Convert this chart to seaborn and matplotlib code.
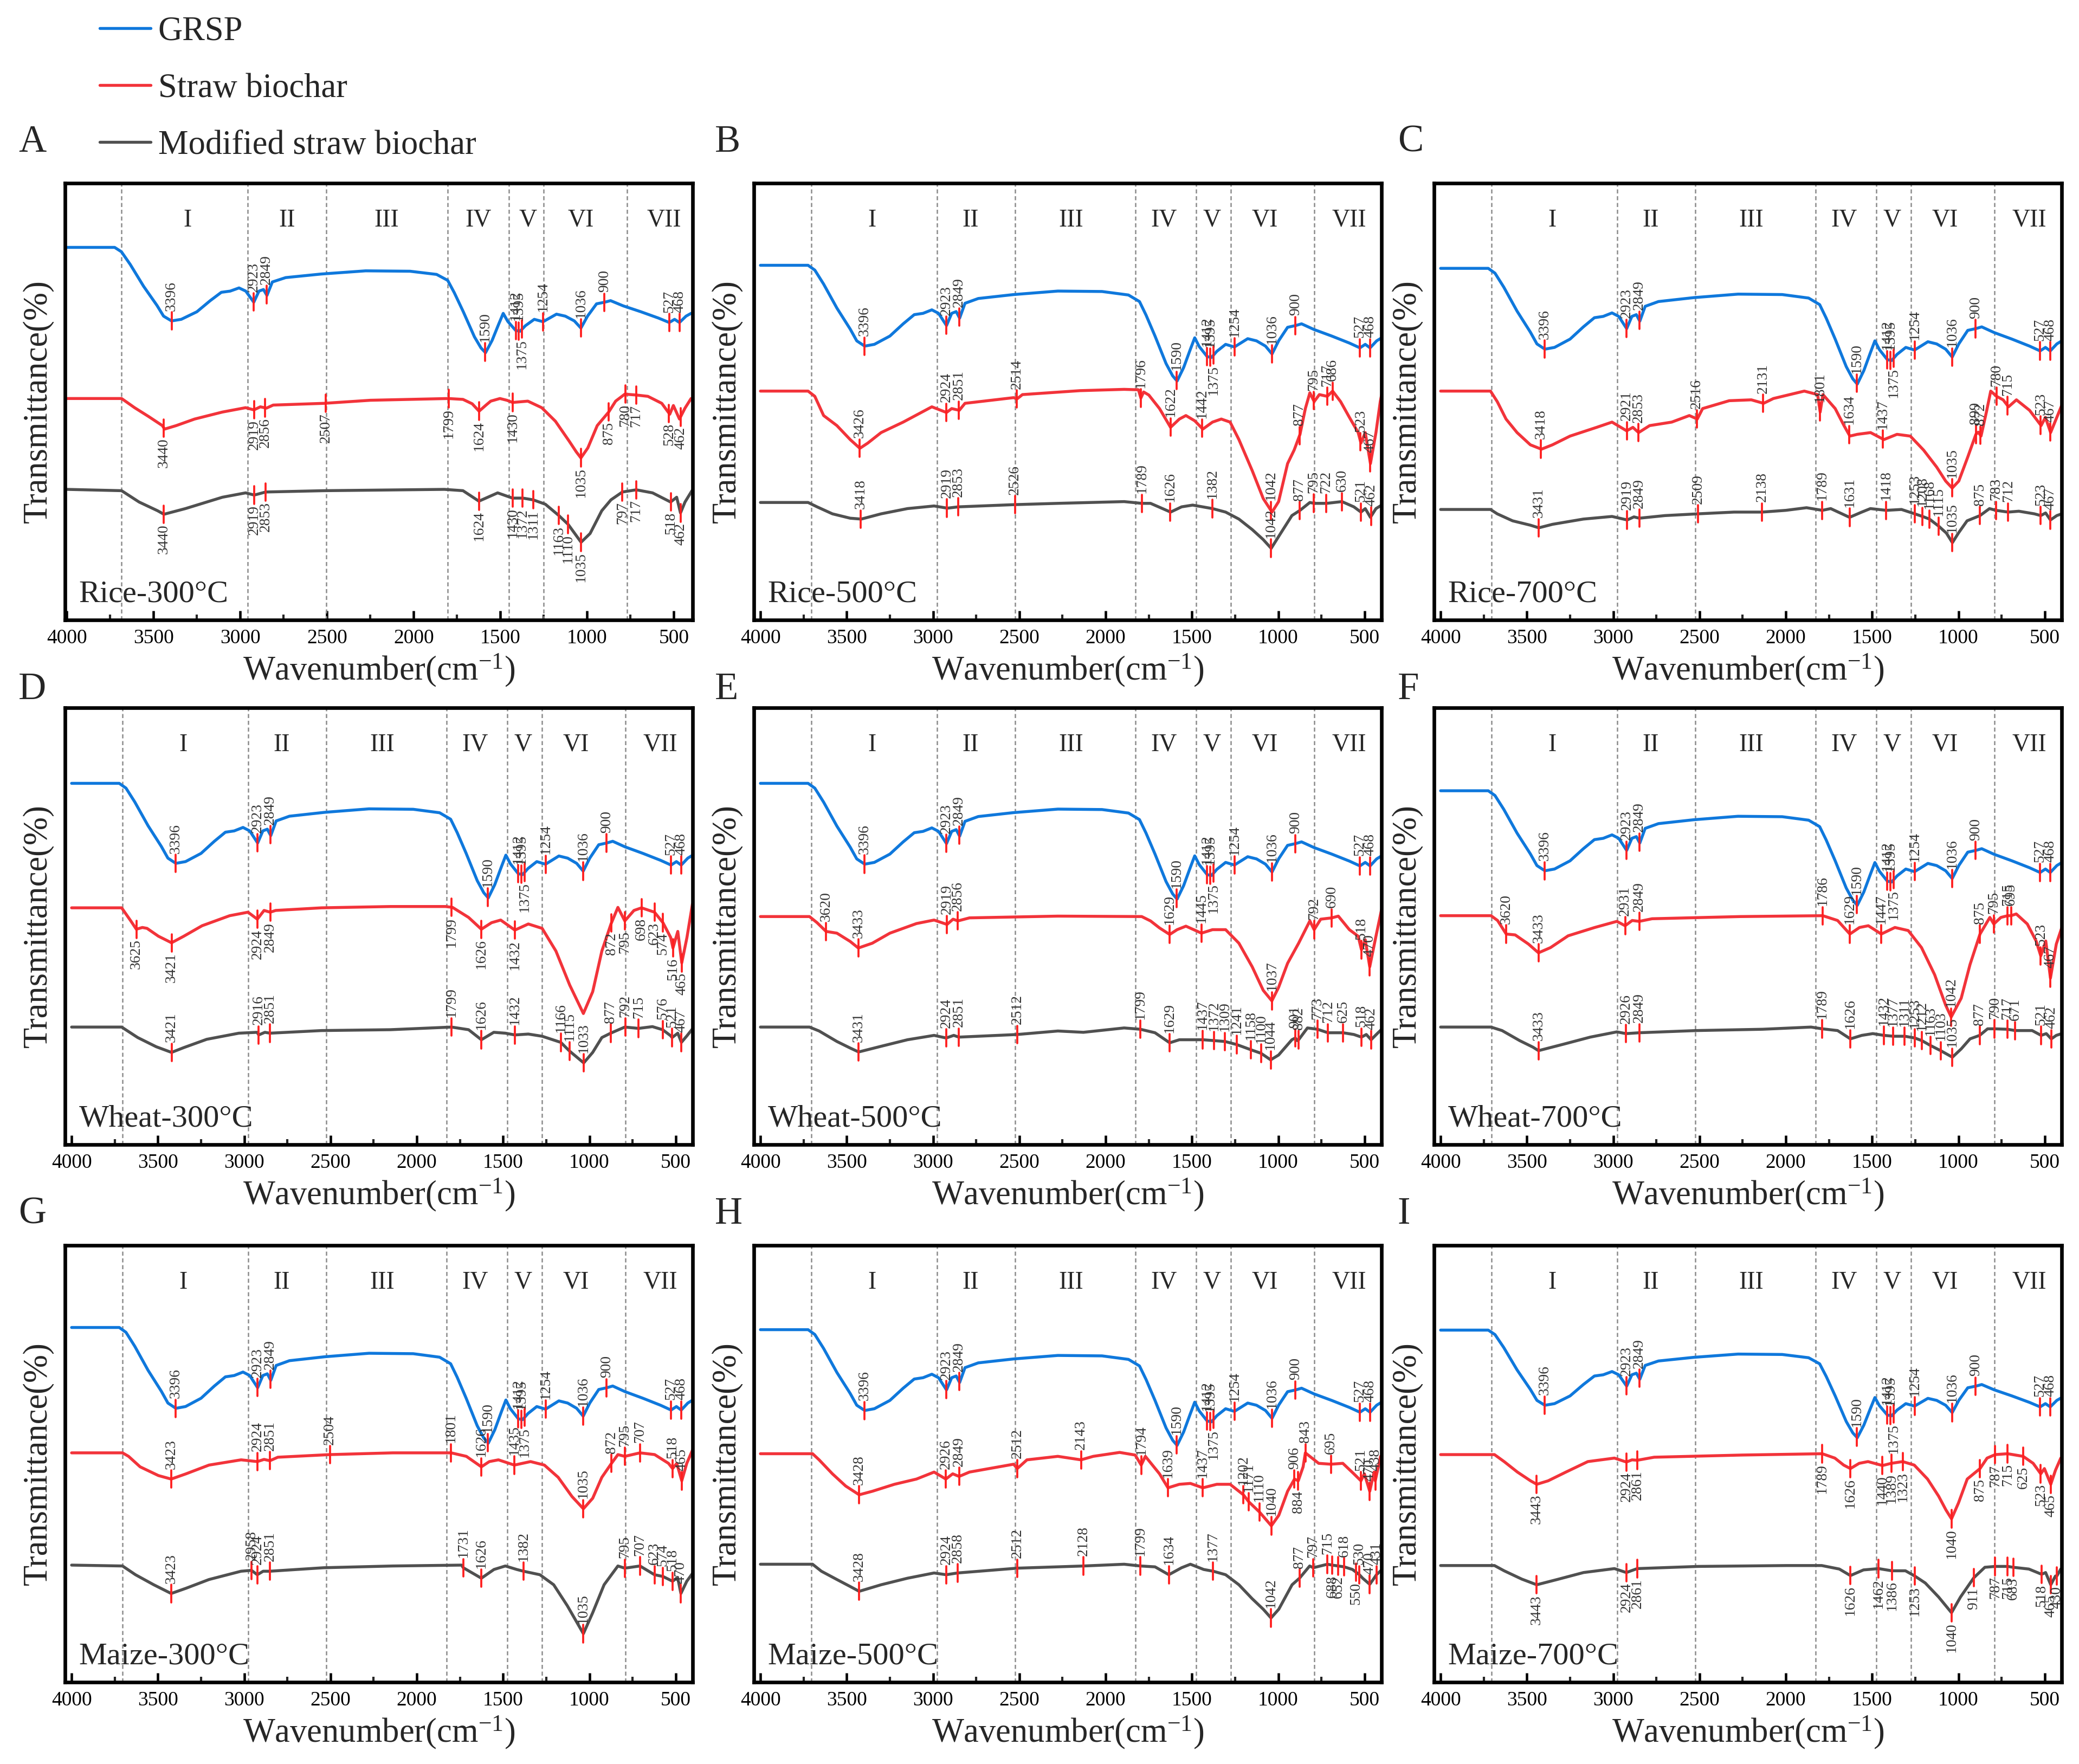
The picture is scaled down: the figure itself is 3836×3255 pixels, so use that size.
import numpy as np
import matplotlib
matplotlib.use("Agg")
import matplotlib.pyplot as plt
from matplotlib.lines import Line2D
import seaborn as sns

# ========================
#  Data
# ========================
# wavenumber (cm-1), transmittance on a 0..1 display scale

# GRSP spectrum, relative to its flat baseline (same sample in every panel)
grsp = [(4000, 0.0), (3724, 0.0), (3685, -0.011), (3634, -0.043), (3557, -0.098), (3480, -0.146),
        (3442, -0.173), (3396, -0.185), (3340, -0.181), (3250, -0.162), (3173, -0.134), (3109, -0.113),
        (3058, -0.110), (3007, -0.102), (2968, -0.110), (2922, -0.138), (2892, -0.110), (2866, -0.106),
        (2846, -0.121), (2815, -0.087), (2738, -0.076), (2533, -0.067), (2277, -0.059), (2021, -0.060),
        (1868, -0.068), (1804, -0.083), (1766, -0.114), (1714, -0.162), (1650, -0.225), (1612, -0.253),
        (1586, -0.265), (1548, -0.234), (1510, -0.193), (1484, -0.166), (1458, -0.186), (1412, -0.209),
        (1387, -0.211), (1356, -0.197), (1305, -0.181), (1254, -0.187), (1177, -0.168), (1126, -0.173),
        (1074, -0.185), (1036, -0.203), (998, -0.173), (946, -0.142), (900, -0.138), (865, -0.134),
        (793, -0.147), (690, -0.162), (588, -0.178), (527, -0.189), (496, -0.181), (468, -0.189),
        (430, -0.173), (401, -0.166)]
grsp_peaks_up = [3396, 2923, 2849, 1590, 1412, 1395, 1254, 1036, 900, 527, 468]
grsp_peaks_down = [1375]
grsp_base = [0.853, 0.812, 0.805, 0.827, 0.827, 0.810, 0.812, 0.807, 0.806]
grsp_scale = [0.91, 1.0, 1.0, 0.99, 1.0, 0.99, 1.0, 1.0, 0.93]

# --- Rice ---
rice300_straw = [(4000, .507), (3684, .507), (3609, .486), (3529, .466), (3449, .445), (3436, .437),
                 (3369, .445), (3263, .460), (3103, .476), (2969, .486), (2921, .481), (2884, .488),
                 (2849, .485), (2810, .492), (2516, .496), (2250, .503), (1801, .507), (1716, .505),
                 (1663, .495), (1623, .478), (1583, .492), (1556, .501), (1503, .507), (1463, .503),
                 (1430, .498), (1342, .501), (1262, .486), (1183, .455), (1103, .409), (1063, .385),
                 (1036, .371), (996, .394), (942, .445), (876, .476), (836, .501), (783, .517), (716, .515),
                 (650, .512), (570, .496), (524, .471), (503, .491), (468, .460), (436, .485), (401, .507)]
rice300_mod = [(4000, .299), (3684, .296), (3583, .270), (3476, .250), (3440, .242), (3316, .255),
               (3103, .281), (2969, .291), (2919, .286), (2853, .293), (2516, .296), (1823, .299),
               (1716, .296), (1624, .272), (1516, .291), (1430, .279), (1371, .279), (1311, .275),
               (1241, .265), (1163, .239), (1110, .219), (1035, .178), (983, .198), (916, .250),
               (863, .275), (797, .293), (717, .298), (623, .291), (519, .270), (484, .281), (462, .245),
               (436, .270), (396, .296)]
rice500_straw = [(4000, .524), (3724, .524), (3685, .512), (3634, .468), (3557, .445), (3480, .413),
                 (3424, .393), (3378, .405), (3301, .429), (3173, .453), (3007, .488), (2922, .475),
                 (2892, .484), (2848, .480), (2815, .496), (2533, .509), (2514, .506), (2482, .516),
                 (2149, .525), (1893, .528), (1810, .527), (1796, .508), (1780, .522), (1750, .515),
                 (1688, .484), (1624, .441), (1573, .460), (1535, .468), (1484, .456), (1437, .437),
                 (1381, .453), (1330, .460), (1279, .453), (1228, .413), (1151, .342), (1087, .278),
                 (1036, .247), (998, .271), (946, .358), (908, .389), (874, .425), (843, .484), (817, .520),
                 (792, .500), (762, .516), (716, .512), (685, .524), (639, .500), (588, .464), (537, .429),
                 (521, .405), (496, .429), (466, .358), (434, .429), (409, .500), (401, .516)]
rice500_mod = [(4000, .269), (3724, .269), (3672, .259), (3583, .243), (3480, .233), (3416, .231),
               (3301, .243), (3148, .255), (2994, .261), (2917, .256), (2853, .259), (2533, .264),
               (2277, .267), (1893, .271), (1791, .267), (1740, .267), (1624, .247), (1560, .259),
               (1496, .263), (1381, .255), (1305, .247), (1228, .231), (1151, .207), (1087, .184),
               (1041, .164), (998, .191), (921, .239), (874, .251), (817, .269), (792, .267), (720, .267),
               (631, .271), (562, .259), (521, .247), (496, .255), (466, .235), (434, .255), (401, .263)]
rice700_straw = [(4000, .524), (3711, .524), (3672, .500), (3621, .460), (3557, .429), (3480, .401),
                 (3416, .391), (3352, .401), (3250, .421), (3096, .441), (3007, .453), (2922, .433),
                 (2886, .441), (2853, .429), (2789, .445), (2661, .453), (2559, .468), (2513, .460),
                 (2482, .484), (2328, .502), (2200, .504), (2129, .496), (2072, .507), (1893, .524),
                 (1816, .516), (1801, .476), (1785, .516), (1714, .484), (1663, .445), (1629, .421),
                 (1586, .425), (1509, .429), (1432, .413), (1356, .425), (1279, .421), (1202, .389),
                 (1126, .350), (1074, .318), (1036, .302), (998, .318), (946, .373), (899, .425),
                 (885, .430), (869, .421), (838, .476), (813, .524), (779, .512), (741, .504), (710, .488),
                 (664, .504), (588, .480), (542, .456), (521, .445), (496, .464), (466, .429), (434, .460),
                 (401, .492)]
rice700_mod = [(4000, .253), (3711, .253), (3672, .243), (3583, .227), (3480, .217), (3431, .211),
               (3352, .219), (3173, .231), (3007, .237), (2919, .229), (2880, .236), (2849, .233),
               (2700, .239), (2509, .243), (2300, .247), (2138, .247), (2000, .251), (1880, .257),
               (1789, .251), (1740, .255), (1631, .235), (1560, .247), (1510, .255), (1418, .251),
               (1330, .253), (1253, .243), (1208, .237), (1168, .231), (1115, .215), (1070, .199),
               (1035, .177), (1000, .199), (950, .227), (875, .239), (820, .255), (783, .251), (712, .247),
               (650, .249), (560, .243), (523, .239), (495, .245), (467, .229), (430, .239), (401, .243)]

# --- Wheat ---
wheat300_straw = [(4000, .542), (3710, .542), (3657, .512), (3625, .493), (3590, .497), (3563, .495),
                  (3497, .477), (3421, .462), (3350, .477), (3244, .501), (3084, .524), (2978, .532),
                  (2924, .516), (2885, .536), (2849, .532), (2818, .536), (2552, .542), (2153, .545),
                  (1833, .545), (1793, .543), (1700, .520), (1626, .493), (1567, .508), (1514, .514),
                  (1432, .491), (1354, .505), (1274, .495), (1194, .443), (1114, .365), (1035, .300),
                  (981, .350), (928, .443), (875, .505), (835, .543), (795, .512), (742, .536), (698, .542),
                  (623, .532), (574, .508), (529, .474), (516, .450), (488, .488), (465, .416), (435, .474),
                  (403, .551)]
wheat300_mod = [(4000, .269), (3710, .269), (3617, .245), (3510, .224), (3421, .211), (3350, .222),
                (3217, .241), (3031, .255), (2925, .257), (2916, .251), (2880, .257), (2851, .255),
                (2552, .261), (2153, .263), (1799, .269), (1700, .263), (1626, .240), (1554, .257),
                (1487, .255), (1432, .251), (1354, .253), (1274, .248), (1166, .234), (1115, .214),
                (1033, .187), (981, .211), (928, .245), (877, .255), (795, .269), (715, .266), (635, .270),
                (576, .263), (529, .249), (521, .245), (488, .255), (467, .234), (435, .249), (403, .265)]
wheat500_straw = [(4000, .522), (3716, .522), (3672, .508), (3620, .488), (3557, .484), (3480, .465),
                  (3433, .450), (3352, .461), (3250, .484), (3096, .506), (2994, .514), (2919, .504),
                  (2884, .516), (2856, .512), (2789, .519), (2277, .523), (1791, .522), (1740, .512),
                  (1688, .496), (1629, .481), (1586, .492), (1535, .500), (1445, .484), (1381, .492),
                  (1305, .492), (1228, .461), (1151, .407), (1087, .353), (1037, .329), (998, .360),
                  (946, .415), (882, .461), (817, .512), (792, .492), (754, .516), (690, .519), (652, .523),
                  (588, .492), (537, .477), (518, .446), (496, .469), (470, .407), (434, .477), (401, .539)]
wheat500_mod = [(4000, .269), (3716, .269), (3660, .260), (3557, .236), (3480, .221), (3431, .212),
                (3301, .225), (3148, .240), (2994, .250), (2924, .244), (2880, .250), (2851, .246),
                (2512, .252), (2277, .260), (2129, .257), (1893, .267), (1799, .264), (1714, .256),
                (1629, .233), (1573, .240), (1437, .240), (1372, .238), (1309, .236), (1241, .229),
                (1158, .217), (1100, .209), (1044, .194), (998, .205), (921, .240), (901, .244),
                (890, .238), (882, .240), (831, .267), (773, .264), (712, .256), (625, .256), (562, .252),
                (518, .246), (490, .252), (462, .240), (432, .252), (401, .264)]
wheat700_straw = [(4000, .524), (3708, .524), (3670, .513), (3620, .482), (3568, .480), (3491, .459),
                  (3433, .439), (3363, .451), (3261, .478), (3107, .497), (2979, .511), (2931, .501),
                  (2890, .513), (2849, .511), (2775, .517), (2263, .522), (1786, .524), (1700, .513),
                  (1629, .482), (1573, .497), (1522, .501), (1447, .482), (1368, .497), (1291, .490),
                  (1214, .451), (1138, .389), (1074, .319), (1042, .292), (984, .335), (933, .412),
                  (875, .482), (818, .520), (795, .505), (754, .520), (715, .524), (695, .524), (665, .528),
                  (601, .505), (550, .466), (523, .432), (494, .466), (467, .381), (433, .459), (401, .497)]
wheat700_mod = [(4000, .269), (3708, .269), (3644, .261), (3542, .238), (3465, .223), (3433, .215),
                (3286, .230), (3133, .246), (2979, .258), (2926, .254), (2849, .256), (2519, .261),
                (2135, .264), (1854, .269), (1789, .265), (1700, .261), (1626, .242), (1560, .250),
                (1496, .254), (1432, .250), (1377, .248), (1311, .248), (1253, .244), (1212, .238),
                (1163, .227), (1103, .215), (1035, .200), (984, .219), (933, .242), (877, .250),
                (831, .265), (790, .265), (717, .264), (671, .261), (573, .261), (521, .250), (491, .254),
                (462, .242), (433, .250), (401, .254)]

# --- Maize ---
maize300_straw = [(4000, .525), (3705, .525), (3670, .517), (3603, .493), (3497, .473), (3423, .465),
                  (3337, .477), (3204, .497), (3018, .509), (2924, .505), (2885, .510), (2851, .507),
                  (2805, .515), (2504, .521), (2139, .525), (1801, .525), (1713, .517), (1626, .493),
                  (1580, .505), (1527, .509), (1435, .497), (1341, .505), (1261, .497), (1181, .469),
                  (1101, .425), (1035, .397), (981, .421), (928, .469), (872, .501), (835, .521),
                  (795, .517), (707, .525), (622, .521), (542, .501), (518, .489), (494, .501), (465, .461),
                  (436, .501), (401, .533)]
maize300_mod = [(4000, .268), (3705, .266), (3630, .246), (3524, .223), (3423, .203), (3337, .215),
                (3204, .235), (3018, .254), (2958, .256), (2924, .246), (2890, .254), (2851, .254),
                (2539, .262), (2139, .266), (1740, .268), (1731, .262), (1626, .238), (1553, .258),
                (1487, .266), (1421, .258), (1382, .254), (1287, .246), (1207, .223), (1128, .175),
                (1035, .111), (981, .159), (915, .223), (835, .266), (795, .261), (707, .266), (623, .246),
                (574, .242), (518, .231), (489, .240), (470, .203), (436, .231), (401, .250)]
maize500_straw = [(4000, .523), (3698, .523), (3660, .509), (3583, .477), (3506, .449), (3428, .429),
                  (3352, .437), (3224, .453), (3096, .465), (2994, .481), (2926, .465), (2886, .477),
                  (2849, .471), (2789, .481), (2533, .499), (2512, .489), (2456, .509), (2277, .517),
                  (2143, .509), (2072, .517), (1919, .526), (1829, .520), (1794, .497), (1770, .517),
                  (1688, .477), (1639, .445), (1573, .453), (1509, .455), (1437, .445), (1356, .453),
                  (1279, .453), (1202, .429), (1171, .413), (1110, .390), (1040, .358), (997, .382),
                  (946, .437), (906, .465), (884, .461), (856, .493), (843, .525), (766, .501), (695, .499),
                  (626, .501), (562, .477), (521, .461), (501, .477), (470, .437), (445, .481), (438, .461),
                  (407, .517)]
maize500_mod = [(4000, .270), (3698, .270), (3647, .254), (3557, .235), (3480, .219), (3428, .208),
                (3301, .223), (3148, .238), (2994, .250), (2924, .246), (2858, .250), (2512, .261),
                (2128, .266), (1893, .270), (1799, .266), (1714, .264), (1634, .246), (1560, .262),
                (1509, .270), (1432, .258), (1377, .254), (1305, .246), (1228, .223), (1151, .191),
                (1087, .167), (1042, .147), (997, .167), (920, .223), (877, .238), (818, .266), (797, .262),
                (715, .270), (688, .268), (652, .266), (618, .264), (570, .258), (550, .252), (530, .246),
                (511, .238), (470, .224), (445, .238), (431, .246), (407, .255)]
maize700_straw = [(4000, .521), (3688, .521), (3632, .505), (3555, .481), (3479, .461), (3443, .453),
                  (3377, .461), (3274, .481), (3147, .505), (2993, .513), (2924, .504), (2891, .509),
                  (2861, .508), (2763, .515), (2252, .520), (1789, .523), (1716, .513), (1665, .497),
                  (1626, .489), (1575, .501), (1524, .505), (1440, .496), (1389, .501), (1323, .505),
                  (1256, .497), (1179, .465), (1115, .426), (1072, .394), (1040, .374), (1000, .410),
                  (949, .465), (875, .489), (834, .513), (787, .521), (715, .523), (625, .517), (567, .501),
                  (523, .477), (502, .489), (465, .453), (438, .485), (407, .513)]
maize700_mod = [(4000, .267), (3688, .267), (3632, .255), (3530, .236), (3443, .223), (3325, .235),
                (3172, .251), (2993, .260), (2924, .251), (2861, .260), (2508, .265), (1997, .267),
                (1792, .267), (1690, .259), (1626, .244), (1550, .257), (1462, .260), (1386, .255),
                (1307, .255), (1253, .243), (1192, .227), (1115, .195), (1040, .159), (988, .195),
                (911, .239), (847, .263), (787, .265), (715, .265), (683, .263), (592, .259), (518, .247),
                (495, .251), (465, .223), (438, .243), (430, .243), (407, .259)]

# peak labels: (labels above the mark, labels below the mark)
rice300_straw_pk = ([], [3440, 2919, 2856, 2507, 1799, 1624, 1430, 1035, 875, 780, 717, 528, 462])
rice300_mod_pk = ([], [3440, 2919, 2853, 1624, 1430, 1372, 1311, 1163, 1110, 1035, 797, 717, 518, 462])
rice500_straw_pk = ([3426, 2924, 2851, 2514, 1796, 1622, 1442, 1042, 877, 795, 717, 686, 523, 467], [])
rice500_mod_pk = ([3418, 2919, 2853, 2526, 1789, 1626, 1382, 1042, 877, 795, 722, 630, 521, 462], [])
rice700_straw_pk = ([3418, 2921, 2853, 2516, 2131, 1801, 1634, 1437, 1035, 899, 872, 780, 715, 523, 467], [])
rice700_mod_pk = ([3431, 2919, 2849, 2509, 2138, 1789, 1631, 1418, 1253, 1208, 1168, 1115, 1035,
                   875, 783, 712, 523, 467], [])
wheat300_straw_pk = ([], [3625, 3421, 2924, 2849, 1799, 1626, 1432, 872, 795, 698, 623, 574, 516, 465])
wheat300_mod_pk = ([3421, 2916, 2851, 1799, 1626, 1432, 1166, 1115, 1033, 877, 792, 715, 576, 521, 467], [])
wheat500_straw_pk = ([3620, 3433, 2919, 2856, 1629, 1445, 1037, 792, 690, 518, 470], [])
wheat500_mod_pk = ([3431, 2924, 2851, 2512, 1799, 1629, 1437, 1372, 1309, 1241, 1158, 1100, 1044,
                    901, 882, 773, 712, 625, 518, 462], [])
wheat700_straw_pk = ([3620, 3433, 2931, 2849, 1786, 1629, 1447, 1042, 875, 795, 715, 695, 523, 467], [])
wheat700_mod_pk = ([3433, 2926, 2849, 1789, 1626, 1432, 1377, 1311, 1253, 1212, 1163, 1103, 1035,
                    877, 790, 717, 671, 521, 462], [])
maize300_straw_pk = ([3423, 2924, 2851, 2504, 1801, 1626, 1435, 1035, 872, 795, 707, 518, 465], [])
maize300_mod_pk = ([3423, 2958, 2924, 2851, 1731, 1626, 1382, 1035, 795, 707, 623, 574, 518, 470], [])
maize500_straw_pk = ([3428, 2926, 2849, 2512, 2143, 1794, 1639, 1437, 1202, 1171, 1110, 1040,
                      906, 843, 695, 521, 470, 438], [884])
maize500_mod_pk = ([3428, 2924, 2858, 2512, 2128, 1799, 1634, 1377, 1042, 877, 797, 715, 618, 530, 470, 431],
                   [688, 652, 550])
maize700_straw_pk = ([], [3443, 2924, 2861, 1789, 1626, 1440, 1389, 1323, 1040, 875, 787, 715, 625, 523, 465])
maize700_mod_pk = ([], [3443, 2924, 2861, 1626, 1462, 1386, 1253, 1040, 911, 787, 715, 683, 518, 465, 430])

panel_letters = ["A", "B", "C", "D", "E", "F", "G", "H", "I"]
panel_titles = ["Rice-300°C", "Rice-500°C", "Rice-700°C",
                "Wheat-300°C", "Wheat-500°C", "Wheat-700°C",
                "Maize-300°C", "Maize-500°C", "Maize-700°C"]
straw_curves = [rice300_straw, rice500_straw, rice700_straw, wheat300_straw, wheat500_straw,
                wheat700_straw, maize300_straw, maize500_straw, maize700_straw]
mod_curves = [rice300_mod, rice500_mod, rice700_mod, wheat300_mod, wheat500_mod,
              wheat700_mod, maize300_mod, maize500_mod, maize700_mod]
straw_peaks = [rice300_straw_pk, rice500_straw_pk, rice700_straw_pk, wheat300_straw_pk, wheat500_straw_pk,
               wheat700_straw_pk, maize300_straw_pk, maize500_straw_pk, maize700_straw_pk]
mod_peaks = [rice300_mod_pk, rice500_mod_pk, rice700_mod_pk, wheat300_mod_pk, wheat500_mod_pk,
             wheat700_mod_pk, maize300_mod_pk, maize500_mod_pk, maize700_mod_pk]

region_names = ["I", "II", "III", "IV", "V", "VI", "VII"]
region_edges = [3705, 2978, 2525, 1826, 1475, 1276, 792]
region_centers = [3352, 2784, 2200, 1663, 1386, 1079, 588]
# panel A was drawn on a slightly different x scale
region_edges_a = [3684, 2956, 2503, 1804, 1450, 1250, 770]
region_centers_a = [3303, 2729, 2156, 1628, 1343, 1036, 556]

# ========================
#  Style
# ========================
sns.set_theme(style="ticks")
plt.rcParams["font.family"] = ["Liberation Serif", "DejaVu Serif"]
plt.rcParams["mathtext.fontset"] = "custom"
plt.rcParams["mathtext.rm"] = "Liberation Serif"
plt.rcParams["mathtext.default"] = "rm"

BLUE = "#0f78dc"
RED = "#f2333a"
GRAY = "#505050"
MARK = "#ff1f1f"
HALF = 0.02

W, H = 3837, 3255
col_left = [120, 1391, 2646]
row_top = [338, 1306, 2298]
AX_W, AX_H = 1158, 806
letter_x = [34, 1319, 2579]
letter_y = [280, 1290, 2258]

fig = plt.figure(figsize=(W / 300, H / 300), dpi=300)


def draw_spectrum(ax, wn, t, color, up, down):
    sns.lineplot(x=wn, y=t, ax=ax, color=color, lw=1.3, estimator=None, sort=True)
    order = np.argsort(wn)
    xs = np.asarray(wn, float)[order]
    ys = np.asarray(t, float)[order]
    for side, peaks in (("up", up), ("down", down)):
        for p in peaks:
            y = np.interp(p, xs, ys)
            ax.plot([p, p], [y - HALF, y + HALF], color=MARK, lw=0.9, zorder=4)
            if side == "up":
                ax.text(p, y + HALF + 0.003, str(p), rotation=90, ha="center", va="bottom",
                        fontsize=6.6, color="#333333", zorder=5)
            else:
                ax.text(p, y - HALF - 0.003, str(p), rotation=90, ha="center", va="top",
                        fontsize=6.6, color="#333333", zorder=5)


for i, letter in enumerate(panel_letters):
    r, c = divmod(i, 3)
    ax = fig.add_axes([col_left[c] / W, 1 - (row_top[r] + AX_H) / H, AX_W / W, AX_H / H])

    edges = region_edges_a if i == 0 else region_edges
    centers = region_centers_a if i == 0 else region_centers
    for e in edges:
        ax.axvline(e, color="#8c8c8c", lw=0.6, ls=(0, (3, 2)), zorder=1)
    for name, cx in zip(region_names, centers):
        ax.text(cx, 0.915, name, ha="center", va="center", fontsize=11)

    g_wn = [p[0] for p in grsp]
    g_t = [grsp_base[i] + grsp_scale[i] * p[1] for p in grsp]
    draw_spectrum(ax, g_wn, g_t, BLUE, grsp_peaks_up, grsp_peaks_down)

    s = straw_curves[i]
    draw_spectrum(ax, [p[0] for p in s], [p[1] for p in s], RED, *straw_peaks[i])
    m = mod_curves[i]
    draw_spectrum(ax, [p[0] for p in m], [p[1] for p in m], GRAY, *mod_peaks[i])

    ax.text(0.022, 0.042, panel_titles[i], transform=ax.transAxes, fontsize=14, va="baseline")

    if i == 0:
        ax.set_xlim(4010, 392)
    else:
        ax.set_xlim(4038, 402)
    ax.set_ylim(0, 1)
    ax.set_xticks(range(500, 4001, 500))
    ax.set_xticks(range(750, 4000, 500), minor=True)
    ax.set_yticks([])
    ax.tick_params(axis="x", which="major", direction="in", length=4, width=1.1,
                   labelsize=9, pad=4, colors="black")
    ax.tick_params(axis="x", which="minor", direction="in", length=2.5, width=1.0)
    for sp in ax.spines.values():
        sp.set_linewidth(1.6)
        sp.set_color("black")
    ax.set_xlabel("Wavenumber(cm$^{-1}$)", fontsize=15, labelpad=2)
    ax.set_ylabel("Transmittance(%)", fontsize=15, labelpad=5)

    fig.text(letter_x[c] / W, 1 - letter_y[r] / H, letter, fontsize=17, va="baseline")

handles = [Line2D([], [], color=BLUE, lw=1.3),
           Line2D([], [], color=RED, lw=1.3),
           Line2D([], [], color=GRAY, lw=1.3)]
fig.legend(handles, ["GRSP", "Straw biochar", "Modified straw biochar"],
           loc="upper left", bbox_to_anchor=(184 / W, 1 - 30 / H), frameon=False,
           fontsize=15, handlelength=1.5, handletextpad=0.22, labelspacing=0.75,
           borderpad=0, borderaxespad=0)

fig.savefig("out.png", dpi=300)
